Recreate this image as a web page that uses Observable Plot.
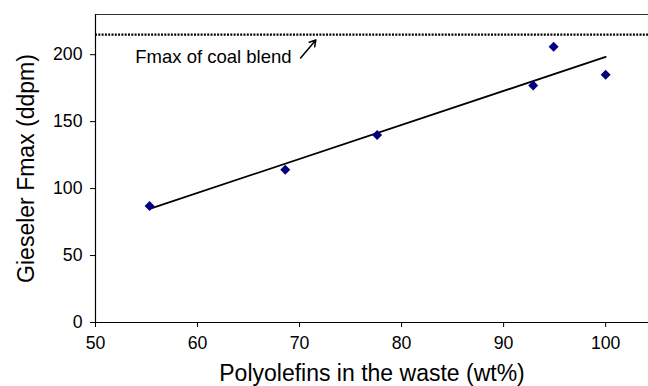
<!DOCTYPE html>
<html><head><meta charset="utf-8">
<script src="https://cdn.jsdelivr.net/npm/d3@7"></script>
<script src="https://cdn.jsdelivr.net/npm/@observablehq/plot@0.6"></script>
<style>body{margin:0;background:#fff;overflow:hidden}</style>
</head><body><div id="chart"></div>
<script>
const polyolefins = [55.3, 68.6, 77.6, 92.9, 94.9, 100];
const fmax = [87, 114, 140, 177, 206, 185];
const coalBlendFmax = 215;
const xTicks = [50, 60, 70, 80, 90, 100];
const yTicks = [0, 50, 100, 150, 200];
const annotationText = "Fmax of coal blend";

const data = polyolefins.map((x, i) => ({x, y: fmax[i]}));
const font = "'Liberation Sans', Arial, sans-serif";

const plot = Plot.plot({
  width: 648, height: 386,
  marginLeft: 95, marginTop: 14, marginBottom: 64, marginRight: 0,
  style: {fontFamily: font, fontSize: "18px", color: "#000", background: "#fff"},
  x: {domain: [50, 104.2], ticks: xTicks, label: null},
  y: {domain: [0, 230], ticks: yTicks, label: null},
  marks: [
    Plot.ruleY([230], {stroke: "#333", strokeWidth: 1}),
    Plot.ruleX([50], {stroke: "#000", strokeWidth: 1.2}),
    Plot.ruleY([0], {stroke: "#000", strokeWidth: 1.2}),
    Plot.axisX({ticks: xTicks, tickSize: 5, tickPadding: 9, fontSize: 17.7, label: null}),
    Plot.axisY({ticks: yTicks, tickSize: 5, tickPadding: 8, fontSize: 17.7, label: null}),
    Plot.ruleY([coalBlendFmax], {stroke: "#000", strokeWidth: 2.4, strokeDasharray: "2,1.3"}),
    Plot.linearRegressionY(data, {x: "x", y: "y", ci: 0, stroke: "#000", strokeWidth: 1.8}),
    Plot.dot(data, {x: "x", y: "y", symbol: "diamond2", r: 4.5, fill: "#000080", stroke: "none"}),
    Plot.text([annotationText], {x: 53.9, y: 198.3, text: d => d, textAnchor: "start", fontSize: 18.5, fill: "#000"}),
    Plot.arrow([{x1: 70.1, y1: 197.5, x2: 71.6, y2: 211}], {x1: "x1", y1: "y1", x2: "x2", y2: "y2", stroke: "#000", strokeWidth: 1.5, headLength: 7, bend: 0}),
    Plot.text(["Polyolefins in the waste (wt%)"], {frameAnchor: "bottom", lineAnchor: "middle", dy: 51, text: d => d, fontSize: 23, fill: "#000"}),
    Plot.text(["Gieseler Fmax (ddpm)"], {frameAnchor: "left", textAnchor: "middle", lineAnchor: "middle", dx: -69, rotate: -90, text: d => d, fontSize: 23, fill: "#000"})
  ]
});
document.getElementById("chart").appendChild(plot);
</script>
</body></html>
